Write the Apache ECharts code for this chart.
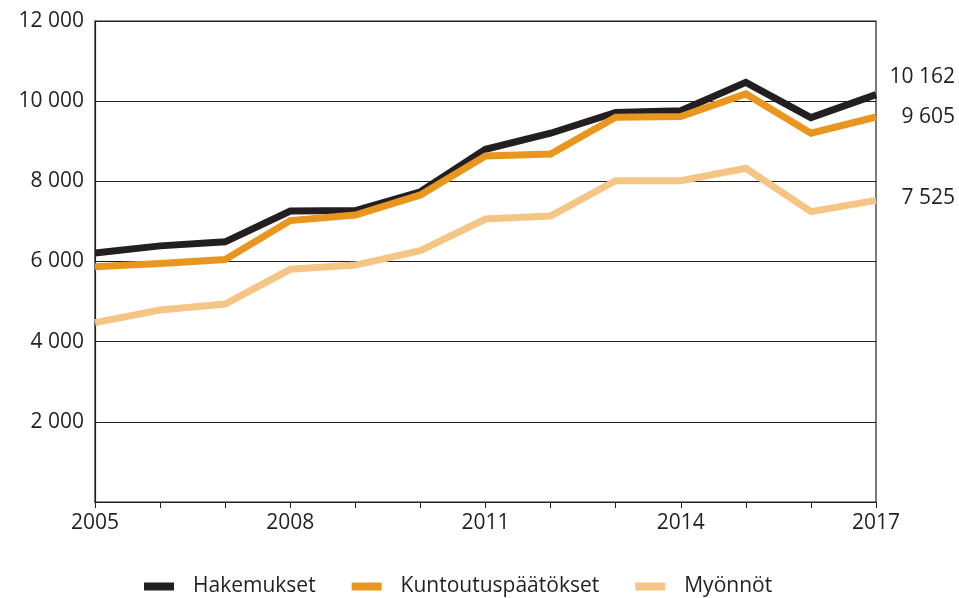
<!DOCTYPE html>
<html>
<head>
<meta charset="utf-8">
<script src="https://cdn.jsdelivr.net/npm/echarts@6/dist/echarts.min.js"></script>
<style>
  html, body { margin: 0; padding: 0; background: #fff; }
  #main { width: 959px; height: 598px; }
</style>
</head>
<body>
<div id="main"></div>
<script>
var years = ['2005','2006','2007','2008','2009','2010','2011','2012','2013','2014','2015','2016','2017'];
var hakemukset = [6210, 6390, 6490, 7260, 7270, 7740, 8800, 9200, 9720, 9760, 10470, 9590, 10162];
var paatokset = [5870, 5950, 6050, 7020, 7160, 7660, 8630, 8680, 9600, 9615, 10180, 9200, 9605];
var myonnot = [4475, 4790, 4940, 5805, 5910, 6270, 7060, 7135, 8015, 8015, 8325, 7245, 7525];
var yTicks = [0, 2000, 4000, 6000, 8000, 10000, 12000];

var fnt = 'Open Sans';
var txt = '#231f20';

function fmt(v) {
    return String(v).replace(/\B(?=(\d{3})+(?!\d))/g, ' ');
}

var myChart = echarts.init(document.getElementById('main'));

function line(name, data, color, dy) {
    return {
        name: name,
        type: 'line',
        data: data,
        symbol: 'none',
        animation: false,
        lineStyle: { color: color, width: 7, join: 'miter' },
        itemStyle: { color: color },
        endLabel: {
            show: true,
            formatter: function (p) { return fmt(p.value); },
            color: txt,
            fontFamily: fnt,
            fontSize: 21,
            align: 'right',
            distance: 79,
            offset: [0, dy]
        }
    };
}

var option = {
    backgroundColor: '#fff',
    grid: {
        left: 95, right: 83, top: 21, bottom: 96,
        show: true, borderColor: '#231f20', borderWidth: 1.2
    },
    legend: {
        top: 576,
        left: 144,
        icon: 'rect',
        itemWidth: 30,
        itemHeight: 8,
        itemGap: 36,
        padding: 0,
        textStyle: { color: txt, fontFamily: fnt, fontSize: 21, padding: [0, 0, 0, 14] },
        data: ['Hakemukset', 'Kuntoutuspäätökset', 'Myönnöt']
    },
    xAxis: {
        type: 'category',
        data: years,
        boundaryGap: false,
        axisLine: { lineStyle: { color: '#231f20', width: 1.2 } },
        axisTick: { show: true, interval: 0, length: 6, lineStyle: { color: '#231f20' } },
        axisLabel: { interval: 2, color: txt, fontFamily: fnt, fontSize: 21, margin: 11 },
        splitLine: { show: false }
    },
    yAxis: {
        type: 'value',
        min: yTicks[0],
        max: yTicks[yTicks.length - 1],
        interval: 2000,
        axisLine: { show: true, lineStyle: { color: '#231f20', width: 1.2 } },
        axisTick: { show: false },
        axisLabel: {
            color: txt, fontFamily: fnt, fontSize: 21, margin: 11,
            formatter: function (v) { return v === 0 ? '' : fmt(v); }
        },
        splitLine: { lineStyle: { color: '#231f20', width: 1.2 } }
    },
    series: [
        line('Hakemukset', hakemukset, '#231f20', -18),
        line('Kuntoutuspäätökset', paatokset, '#e8961e', 0),
        line('Myönnöt', myonnot, '#f5c585', -2)
    ]
};

myChart.setOption(option);
</script>
</body>
</html>
